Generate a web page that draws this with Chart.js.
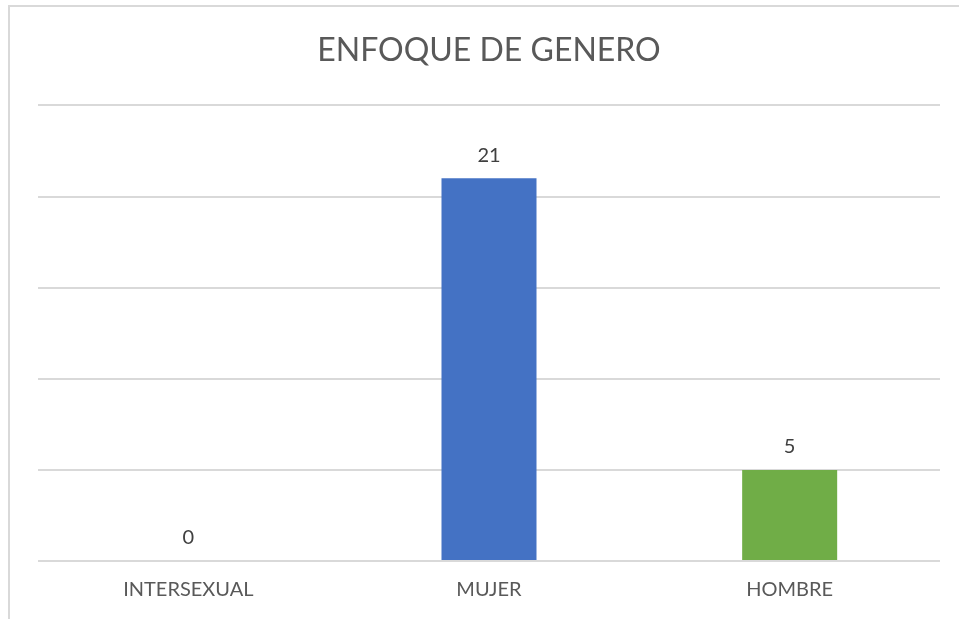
<!DOCTYPE html>
<html>
<head>
<meta charset="utf-8">
<script src="https://cdn.jsdelivr.net/npm/chart.js@4"></script>
<style>
  html, body { margin: 0; padding: 0; background: #fff; overflow: hidden; }
  #frame { position: absolute; left: 8px; top: 5px; width: 2000px; height: 2000px; border: 2px solid #D9D9D9; }
  #wrap { position: absolute; left: 0; top: 0; width: 959px; height: 619px; }
</style>
</head>
<body>
<div id="frame"></div>
<div id="wrap"><canvas id="chart" width="959" height="619"></canvas></div>
<script>
const categories = ["INTERSEXUAL", "MUJER", "HOMBRE"];
const values = [0, 21, 5];
const barColors = ["#ED7D31", "#4472C4", "#70AD47"];

// value labels above each bar
const valueLabels = {
    id: "valueLabels",
    afterDatasetsDraw(chart) {
        const ctx = chart.ctx;
        const meta = chart.getDatasetMeta(0);
        ctx.save();
        ctx.fillStyle = "#404040";
        ctx.font = "20px Lato, 'Open Sans', sans-serif";
        ctx.textAlign = "center";
        ctx.textBaseline = "bottom";
        meta.data.forEach((bar, i) => {
            ctx.fillText(String(values[i]), bar.x, bar.y - 13);
        });
        ctx.restore();
    }
};

let ctx = document.getElementById("chart").getContext("2d");
let chart = new Chart(ctx, {
    type: "bar",
    data: {
        labels: categories,
        datasets: [{
            data: values,
            backgroundColor: barColors,
            borderWidth: 0,
            categoryPercentage: 1,
            barPercentage: 0.316
        }]
    },
    options: {
        responsive: false,
        animation: false,
        layout: { padding: { left: 38, right: 19, top: 0, bottom: 0 } },
        plugins: {
            legend: { display: false },
            tooltip: { enabled: false },
            title: {
                display: true,
                text: "ENFOQUE DE GENERO",
                color: "#595959",
                font: { family: "Lato, 'Open Sans', sans-serif", size: 32, weight: "normal" },
                padding: { top: 31, bottom: 36 }
            }
        },
        scales: {
            x: {
                grid: { display: false, drawTicks: false },
                border: { display: false },
                ticks: {
                    color: "#595959",
                    font: { family: "Lato, 'Open Sans', sans-serif", size: 20 },
                    padding: 17
                }
            },
            y: {
                min: 0,
                max: 25,
                ticks: { display: false, stepSize: 5 },
                border: { display: false },
                grid: { color: "#D9D9D9", lineWidth: 2, drawTicks: false }
            }
        }
    },
    plugins: [valueLabels]
});
</script>
</body>
</html>
